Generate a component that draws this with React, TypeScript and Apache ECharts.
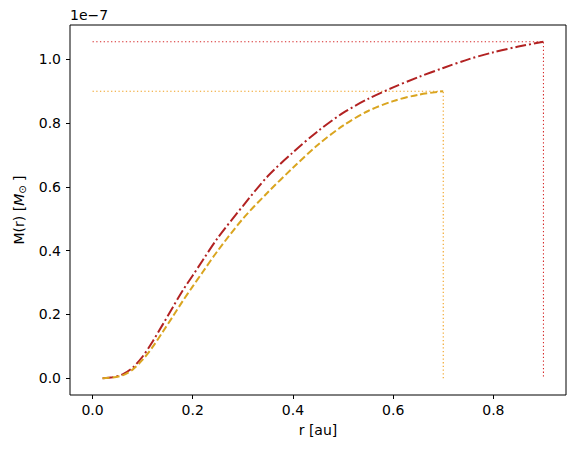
import React, { useEffect, useRef } from "react";
import * as echarts from "echarts";

// radii [au]
const rRed = [0.02, 0.04, 0.06, 0.08, 0.10, 0.12, 0.14, 0.16, 0.18, 0.20, 0.22, 0.25, 0.30, 0.35, 0.40, 0.45, 0.50, 0.55, 0.60, 0.65, 0.70, 0.75, 0.80, 0.85, 0.90];
// enclosed mass [1e-7 Msun]
const mRed = [0.0, 0.003, 0.012, 0.033, 0.068, 0.115, 0.168, 0.222, 0.275, 0.322, 0.37, 0.44, 0.54, 0.634, 0.708, 0.775, 0.832, 0.876, 0.912, 0.944, 0.973, 1.0, 1.022, 1.04, 1.055];

const rOrange = [0.02, 0.04, 0.06, 0.08, 0.10, 0.12, 0.14, 0.16, 0.18, 0.20, 0.22, 0.25, 0.30, 0.35, 0.40, 0.45, 0.50, 0.55, 0.60, 0.65, 0.70];
const mOrange = [0.0, 0.002, 0.009, 0.027, 0.058, 0.098, 0.145, 0.193, 0.242, 0.288, 0.333, 0.40, 0.50, 0.583, 0.66, 0.732, 0.792, 0.838, 0.869, 0.889, 0.90];

// outer radius / total mass markers
const redEdge = { r: 0.9, m: 1.055 };
const orangeEdge = { r: 0.7, m: 0.9 };

const xTicks = [0.0, 0.2, 0.4, 0.6, 0.8];
const yTicks = [0.0, 0.2, 0.4, 0.6, 0.8, 1.0];

const FONT = "DejaVu Sans";
const FS = 14;

export default function App() {
  const ref = useRef<HTMLDivElement>(null);
  useEffect(() => {
    const chart = echarts.init(ref.current!, null, { renderer: "svg" });
    const zip = (xs: number[], ys: number[]) => xs.map((x, i) => [x, ys[i]]);
    chart.setOption({
      animation: false,
      backgroundColor: "#fff",
      textStyle: { fontFamily: FONT },
      grid: {
        left: 70,
        top: 25,
        right: 9,
        bottom: 55,
        show: true,
        borderColor: "#000",
        borderWidth: 1,
        backgroundColor: "transparent",
      },
      graphic: [
        {
          type: "text",
          left: 70,
          top: 8,
          style: { text: "1e\u22127", fontSize: FS, fontFamily: FONT, fill: "#000" },
        },
      ],
      xAxis: {
        type: "value",
        min: -0.045,
        max: 0.945,
        name: "r [au]",
        nameLocation: "middle",
        nameGap: 28,
        nameTextStyle: { fontSize: FS, color: "#000", fontFamily: FONT },
        axisLine: { show: false, onZero: false },
        splitLine: { show: false },
        axisTick: {
          show: true,
          length: 4,
          lineStyle: { color: "#000", width: 1 },
          customValues: xTicks,
        },
        axisLabel: {
          fontSize: FS,
          color: "#000",
          margin: 8,
          customValues: xTicks,
          formatter: (v: number) => v.toFixed(1),
        },
      },
      yAxis: {
        type: "value",
        min: -0.0527,
        max: 1.1077,
        name: "M(r) [{it|M}{sub|\u2299} ]",
        nameLocation: "middle",
        nameGap: 43,
        nameTextStyle: {
          fontSize: FS,
          color: "#000",
          fontFamily: FONT,
          rich: {
            it: { fontSize: FS, fontStyle: "italic", fontFamily: FONT, color: "#000" },
            sub: { fontSize: 10, fontFamily: FONT, color: "#000", verticalAlign: "bottom", padding: [6, 0, 0, 0] },
          },
        },
        axisLine: { show: false, onZero: false },
        splitLine: { show: false },
        axisTick: {
          show: true,
          length: 4,
          lineStyle: { color: "#000", width: 1 },
          customValues: yTicks,
        },
        axisLabel: {
          fontSize: FS,
          color: "#000",
          margin: 9,
          customValues: yTicks,
          formatter: (v: number) => v.toFixed(1),
        },
      },
      series: [
        {
          type: "line",
          data: [
            [0, redEdge.m],
            [redEdge.r, redEdge.m],
            [redEdge.r, 0],
          ],
          showSymbol: false,
          lineStyle: { color: "#d62a2a", width: 1.1, type: [1.3, 2.4] },
        },
        {
          type: "line",
          data: [
            [0, orangeEdge.m],
            [orangeEdge.r, orangeEdge.m],
            [orangeEdge.r, 0],
          ],
          showSymbol: false,
          lineStyle: { color: "#f0a020", width: 1.1, type: [1.3, 2.4] },
        },
        {
          type: "line",
          data: zip(rRed, mRed),
          showSymbol: false,
          smooth: 0.3,
          lineStyle: { color: "#b22222", width: 2, type: [11, 3, 2, 3] },
        },
        {
          type: "line",
          data: zip(rOrange, mOrange),
          showSymbol: false,
          smooth: 0.3,
          lineStyle: { color: "#daa520", width: 2, type: [7, 3] },
        },
      ],
    });
    return () => chart.dispose();
  }, []);
  return (
    <div
      ref={ref}
      style={{ position: "fixed", left: 0, top: 0, width: 575, height: 450 }}
    />
  );
}
